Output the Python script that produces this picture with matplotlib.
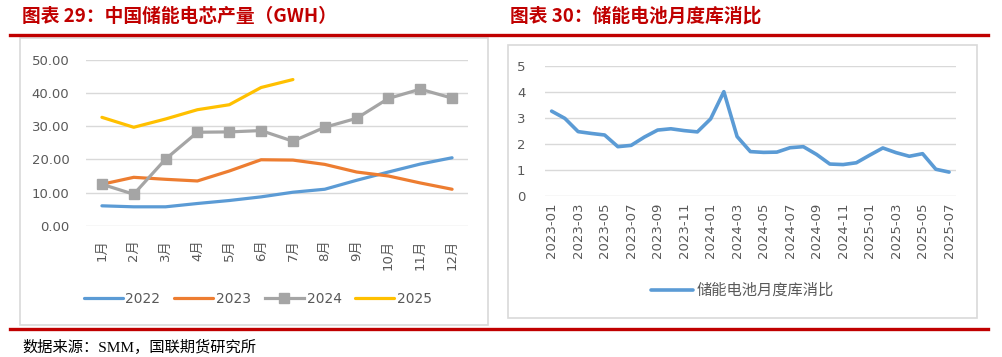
import matplotlib
matplotlib.use("Agg")
import matplotlib.pyplot as plt
from matplotlib.lines import Line2D
from matplotlib.patches import Rectangle

plt.rcParams['font.family'] = ['DejaVu Sans', 'Noto Sans CJK SC']

# ---- data: left chart (GWh) ----
months = ["1月", "2月", "3月", "4月", "5月", "6月", "7月", "8月", "9月", "10月", "11月", "12月"]
y2022 = [6.0, 5.7, 5.7, 6.7, 7.6, 8.7, 10.1, 11.0, 13.7, 16.2, 18.6, 20.5]
y2023 = [12.5, 14.6, 14.0, 13.5, 16.5, 19.9, 19.8, 18.5, 16.2, 15.0, 12.9, 11.0]
y2024 = [12.5, 9.5, 20.1, 28.2, 28.3, 28.7, 25.5, 29.7, 32.4, 38.4, 41.2, 38.5]
y2025 = [32.7, 29.7, 32.2, 35.0, 36.5, 41.7, 44.1]

# ---- data: right chart (inventory ratio) ----
ratio_months = [f"{y}-{m:02d}" for y in (2023, 2024, 2025) for m in range(1, 13)][:31]
ratio = [3.26, 2.98, 2.47, 2.40, 2.34, 1.89, 1.94, 2.26, 2.53, 2.58, 2.51, 2.46,
         2.96, 4.01, 2.28, 1.70, 1.67, 1.68, 1.85, 1.89, 1.59, 1.22, 1.20, 1.27,
         1.56, 1.84, 1.66, 1.52, 1.62, 1.02, 0.91]

W, H = 1002, 357
fig = plt.figure(figsize=(W / 100, H / 100), dpi=100)
red = "#C00000"
grid = "#D9D9D9"
txt = "#595959"


def box(x0, y0, x1, y1):
    return [x0 / W, 1 - y1 / H, (x1 - x0) / W, (y1 - y0) / H]


# frames and red rules
for x0, y0, x1, y1 in [(20, 38, 488, 325), (508, 45, 977, 318)]:
    fig.patches.append(Rectangle((x0 / W, 1 - y1 / H), (x1 - x0) / W, (y1 - y0) / H,
                                 transform=fig.transFigure, fill=False,
                                 edgecolor="#D9D9D9", lw=1.2))
for y in (35, 329):
    fig.add_artist(Line2D([10 / W, 988 / W], [1 - y / H, 1 - y / H],
                          color=red, lw=2.4, transform=fig.transFigure))

title_font = ['Noto Sans CJK SC', 'DejaVu Sans']
fig.text(22 / W, 1 - 16 / H, "图表 29：中国储能电芯产量（GWH）", color=red,
         fontsize=13.5, fontweight="bold", family=title_font, va="center")
fig.text(510 / W, 1 - 16 / H, "图表 30：储能电池月度库消比", color=red,
         fontsize=13.5, fontweight="bold", family=title_font, va="center")
fig.text(22 / W, 1 - 347 / H, "数据来源：SMM，国联期货研究所", color="black",
         fontsize=11, family=['Liberation Serif', 'Noto Sans CJK SC'], va="center")


def style(ax):
    for s in ax.spines.values():
        s.set_visible(False)
    ax.grid(axis="y", color=grid, lw=1)
    ax.set_axisbelow(True)
    ax.tick_params(length=0, colors=txt, labelsize=9.5)


# ---- left chart ----
ax1 = fig.add_axes(box(86, 60, 468, 225.7))
style(ax1)
x = range(len(months))
ax1.plot(x, y2022, color="#5B9BD5", lw=2.3, label="2022", solid_capstyle="round")
ax1.plot(x, y2023, color="#ED7D31", lw=2.3, label="2023", solid_capstyle="round")
ax1.plot(x, y2024, color="#A5A5A5", lw=2.3, marker="s", ms=7, label="2024")
ax1.plot(range(len(y2025)), y2025, color="#FFC000", lw=2.3, label="2025",
         solid_capstyle="round")
ax1.set_xlim(-0.5, len(months) - 0.5)
ax1.set_ylim(0, 50)
ax1.set_yticks(range(0, 51, 10))
ax1.set_yticklabels([f"{v:.2f}" for v in range(0, 51, 10)])
ax1.set_xticks(list(x))
ax1.set_xticklabels(months, rotation=90)
ax1.tick_params(axis="y", pad=12)
ax1.tick_params(axis="x", pad=10)
ax1.legend(loc="center", bbox_to_anchor=(0.45, -0.44), ncol=4, frameon=False,
           fontsize=10, labelcolor=txt, handlelength=2.8, handletextpad=0.2,
           columnspacing=1.0)

# ---- right chart ----
ax2 = fig.add_axes(box(545, 66, 955.7, 195.7))
style(ax2)
ax2.plot(range(len(ratio)), ratio, color="#5B9BD5", lw=2.6, label="储能电池月度库消比",
         solid_capstyle="round")
ax2.set_xlim(-0.5, len(ratio) - 0.5)
ax2.set_ylim(0, 5)
ax2.set_yticks(range(0, 6))
ax2.set_xticks(range(0, len(ratio), 2))
ax2.set_xticklabels(ratio_months[::2], rotation=90)
ax2.tick_params(axis="y", pad=14)
ax2.tick_params(axis="x", pad=5)
ax2.legend(loc="center", bbox_to_anchor=(0.48, -0.73), frameon=False,
           fontsize=11, labelcolor=txt, handlelength=2.8, handletextpad=0.2)

fig.savefig("out.png", dpi=100)
